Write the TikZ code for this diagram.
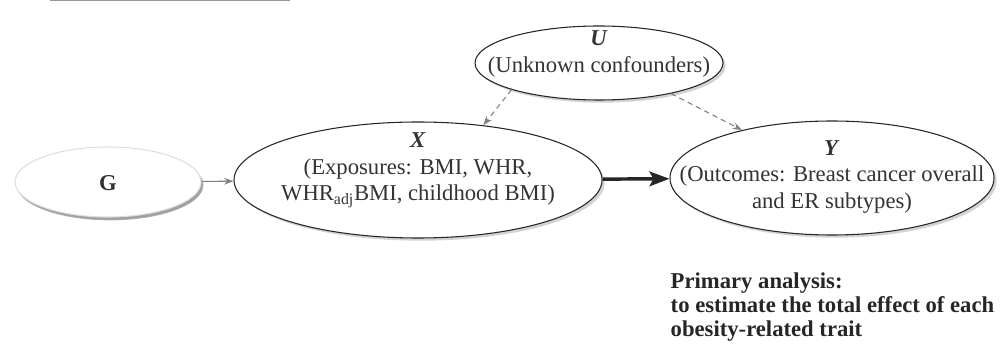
\documentclass[tikz,border=0pt]{standalone}
\usepackage{fontspec}
\setmainfont{Liberation Serif}
\usetikzlibrary{shapes.geometric,shadows,arrows.meta}

\begin{document}
\begin{tikzpicture}
[x=0.75pt,y=-0.75pt,
  nodedecorate/.style={shape=ellipse,draw=black!85,thick,fill=white,inner sep=0pt,%
    drop shadow={shadow xshift=2pt,shadow yshift=-2pt,opacity=0.35}},%
  textdecorate/.style={align=center,text=black!80,font=\fontsize{17}{20}\selectfont},%
  linedecorate/.style={-{Stealth[length=7pt,width=5pt]},gray,thick},%
  dashdecorate/.style={linedecorate,dash pattern=on 4pt off 3pt},%
  boldarrow/.style={-{Stealth[length=15pt,width=11pt,inset=3pt]},black!85,line width=2.6pt}]
\useasboundingbox (0,0) rectangle (1002,348);
%% heading underline (cut off at the top)
\draw[gray!80,line width=1pt] (50,0.8) -- (290,0.8);
%% nodes or vertices
\node (G) at (108,182) [nodedecorate,draw=gray!25,minimum width=139.5pt,minimum height=52.5pt,%
  drop shadow={shadow xshift=1.5pt,shadow yshift=-2.5pt,opacity=0.6}] {};
\node (X) at (418,180) [nodedecorate,minimum width=276pt,minimum height=87pt] {};
\node (Y) at (832,178) [nodedecorate,minimum width=243pt,minimum height=85.5pt] {};
\node (U) at (599,63) [nodedecorate,minimum width=186pt,minimum height=55.5pt] {};
%% labels
\node (Glabel) at (108,183) [textdecorate] {\textbf{G}};
\node (Xlabel) at (418,170) [textdecorate] {\textbf{\textit{X}}\\(Exposures: BMI, WHR,\\WHR\textsubscript{adj}BMI, childhood BMI)};
\node (Ylabel) at (832,177) [textdecorate] {\textbf{\textit{Y}}\\(Outcomes: Breast cancer overall\\and ER subtypes)};
\node (Ulabel) at (599,54) [textdecorate] {\textbf{\textit{U}}\\(Unknown confounders)};
\node (note) at (666,268) [anchor=north west,align=left,text=black!85,%
  font=\bfseries\fontsize{17}{18}\selectfont]
  {Primary analysis:\\to estimate the total effect of each\\obesity-related trait};
%% edges or lines
\draw[linedecorate] (G) -- (X);
\draw[boldarrow] (X) -- (Y);
\draw[dashdecorate] (U.197) -- (X.40);
\draw[dashdecorate] (U.337) -- (Y.152);
\end{tikzpicture}
\end{document}
